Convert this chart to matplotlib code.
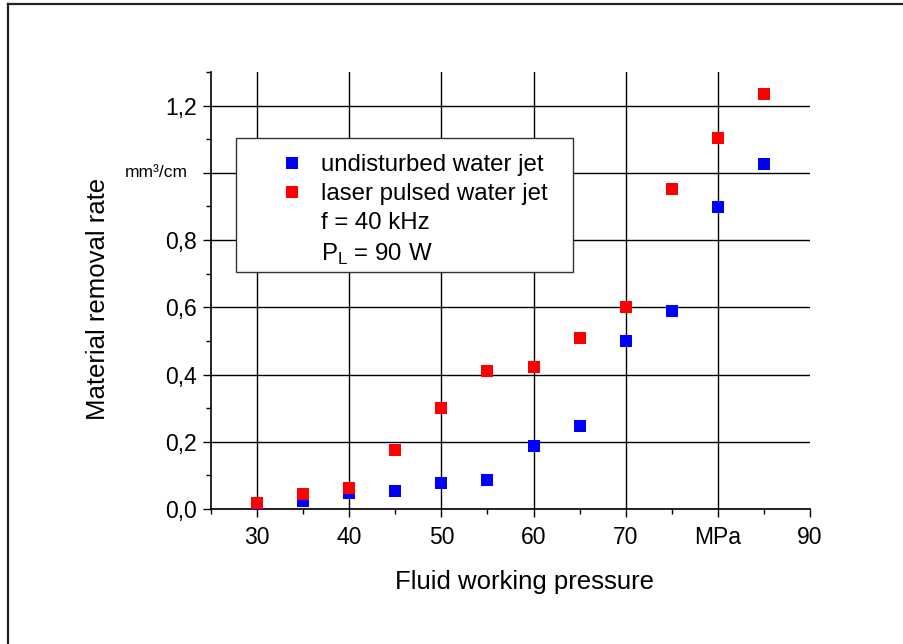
import matplotlib
matplotlib.use('Agg')
import matplotlib.pyplot as plt
from matplotlib.ticker import MultipleLocator, FixedLocator, FixedFormatter
from matplotlib.patches import Rectangle
from matplotlib.lines import Line2D
from matplotlib.transforms import blended_transform_factory

# 圧力 [MPa]
pressure = [30, 35, 40, 45, 50, 55, 60, 65, 70, 75, 80, 85]
# 除去率 undisturbed water jet
rate_water = [0.012, 0.024, 0.048, 0.055, 0.078, 0.086, 0.188, 0.247, 0.500, 0.589, 0.899, 1.027]
# 除去率 laser pulsed water jet
rate_laser = [0.018, 0.045, 0.062, 0.176, 0.300, 0.410, 0.423, 0.509, 0.601, 0.952, 1.104, 1.235]

x_ticks = [30, 40, 50, 60, 70, 80, 90]
x_ticklabels = ['30', '40', '50', '60', '70', 'MPa', '90']
y_ticks = [0.0, 0.2, 0.4, 0.6, 0.8, 1.0, 1.2]
y_ticklabels = ['0,0', '0,2', '0,4', '0,6', '0,8', '', '1,2']
y_unit = 'mm³/cm'

legend_labels = ['undisturbed water jet', 'laser pulsed water jet', 'f = 40 kHz', r'P$_{\rm L}$ = 90 W']

plt.rcParams['font.family'] = ['Liberation Sans', 'DejaVu Sans']
plt.rcParams['mathtext.fontset'] = 'custom'
plt.rcParams['mathtext.rm'] = 'Liberation Sans'

W, H = 904, 644
fig = plt.figure(figsize=(W / 100, H / 100), dpi=100)
ax = fig.add_axes([211 / W, 135 / H, 599 / W, 437 / H])

# 外枠
fig.add_artist(Line2D([8 / W, 8 / W], [0, 1 - 4 / H], transform=fig.transFigure, color='#222222', lw=1.6))
fig.add_artist(Line2D([8 / W, 1], [1 - 4 / H, 1 - 4 / H], transform=fig.transFigure, color='#222222', lw=1.6))

ax.plot(pressure, rate_water, 's', color='#0000ff', markersize=8.6, markeredgewidth=0, zorder=3)
ax.plot(pressure, rate_laser, 's', color='#ff0000', markersize=8.6, markeredgewidth=0, zorder=3)

ax.set_xlim(25, 90)
ax.set_ylim(0, 1.3)

ax.xaxis.set_major_locator(FixedLocator(x_ticks))
ax.xaxis.set_major_formatter(FixedFormatter(x_ticklabels))
ax.xaxis.set_minor_locator(MultipleLocator(5))
ax.yaxis.set_major_locator(FixedLocator(y_ticks))
ax.yaxis.set_major_formatter(FixedFormatter(y_ticklabels))
ax.yaxis.set_minor_locator(MultipleLocator(0.1))

ax.tick_params(which='major', length=6, width=1, direction='out', labelsize=16.5, pad=4, color='black')
ax.tick_params(axis='x', which='major', pad=6)
ax.tick_params(which='minor', length=3.5, width=1, direction='out', color='black')

# 1.0 の位置に単位を表示
ax.text(-0.038, 1.0, y_unit, transform=blended_transform_factory(ax.transAxes, ax.transData),
        ha='right', va='center', fontsize=12.5)

ax.spines['top'].set_visible(False)
ax.spines['right'].set_visible(False)
ax.spines['left'].set_linewidth(1.2)
ax.spines['bottom'].set_linewidth(1.2)

ax.grid(True, which='major', color='black', linewidth=1.0, zorder=0)
ax.set_axisbelow(True)
# 右端(90)のグリッドは描かない
ax.xaxis.get_gridlines()[-1].set_visible(False)

ax.set_xlabel('Fluid working pressure', fontsize=18.5)
ax.xaxis.set_label_coords(0.524, -0.14)
ax.set_ylabel('Material removal rate', fontsize=18.5)
ax.yaxis.set_label_coords(-0.168, 0.48)

# 凡例の枠
box = Rectangle(((236 - 211) / 599, (509 - 272) / 437), (573 - 236) / 599, (272 - 138) / 437,
                transform=ax.transAxes, facecolor='white', edgecolor='#333333', lw=1.0, zorder=4)
ax.add_patch(box)

handles = [
    Line2D([], [], marker='s', linestyle='none', color='#0000ff', markersize=8.6, markeredgewidth=0),
    Line2D([], [], marker='s', linestyle='none', color='#ff0000', markersize=8.6, markeredgewidth=0),
    Line2D([], [], linestyle='none'),
    Line2D([], [], linestyle='none'),
]
leg = ax.legend(handles, legend_labels, loc='upper left',
                bbox_to_anchor=((280 - 211) / 599, (509 - 154) / 437),
                frameon=False, fontsize=17.3, handlelength=1.0, handletextpad=0.7,
                labelspacing=0.3, borderpad=0, borderaxespad=0)
leg.set_zorder(5)

fig.savefig('out.png', dpi=100)
